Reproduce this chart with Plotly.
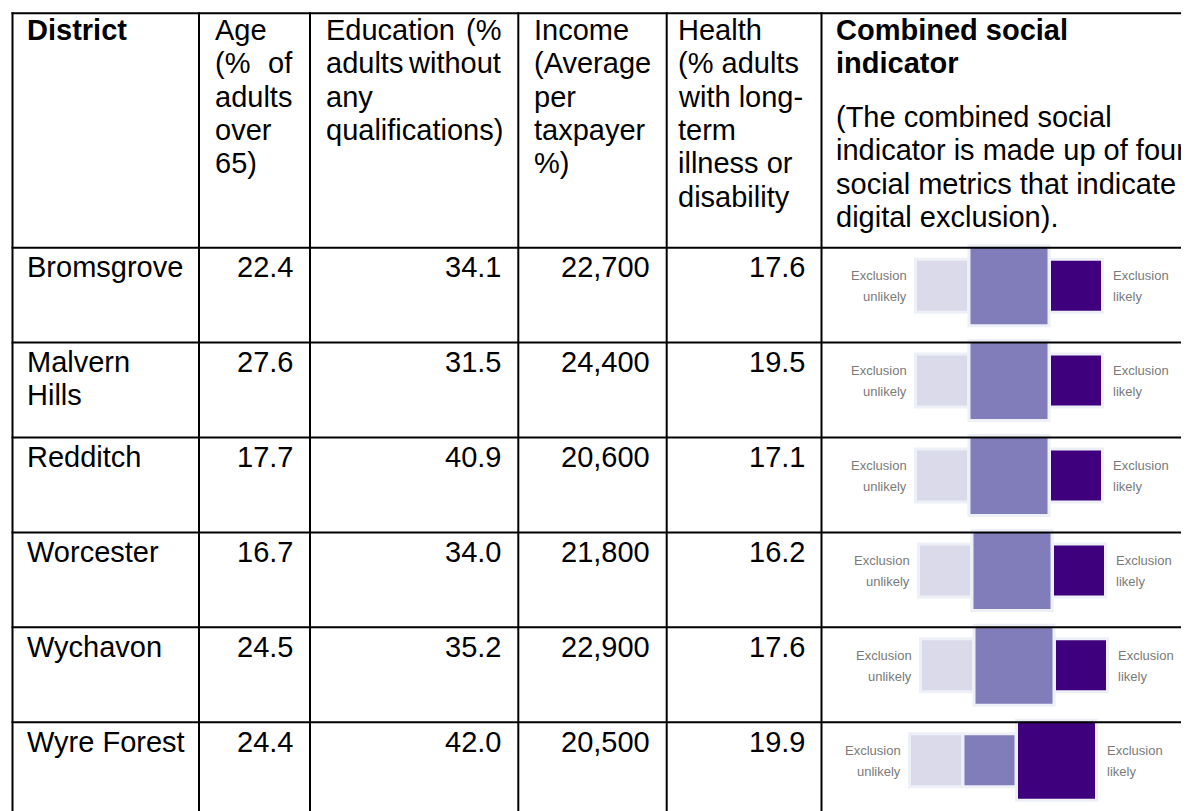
import plotly.graph_objects as go

# ---------------- data ----------------
districts = ["Bromsgrove", "Malvern Hills", "Redditch", "Worcester", "Wychavon", "Wyre Forest"]
age = [22.4, 27.6, 17.7, 16.7, 24.5, 24.4]
education = [34.1, 31.5, 40.9, 34.0, 35.2, 42.0]
income = [22700, 24400, 20600, 21800, 22900, 20500]
health = [17.6, 19.5, 17.1, 16.2, 17.6, 19.9]
# combined social indicator: 0 = exclusion unlikely, 1 = middle, 2 = exclusion likely
indicator_level = [1, 1, 1, 1, 1, 2]
indicator_colors = ["#dadaeb", "#807dba", "#3f007d"]
label_low = ["Exclusion", "unlikely"]
label_high = ["Exclusion", "likely"]

# header text: each line is a list of words; justified lines spread first/last word
header_district = "District"
header_age = [["Age"], ["(%", "of"], ["adults"], ["over"], ["65)"]]
header_age_just = [False, True, False, False, False]
header_edu = [["Education", "(%"], ["adults", "without"], ["any"], ["qualifications)"]]
header_edu_just = [True, True, False, False]
header_inc = [["Income"], ["(Average"], ["per"], ["taxpayer"], ["%)"]]
header_inc_just = [False] * 5
header_hea = [["Health"], ["(%", "adults"], ["with", "long-"], ["term"], ["illness", "or"], ["disability"]]
header_hea_just = [False, False, False, False, False, False]
header_comb_bold = ["Combined social", "indicator"]
header_comb_text = ["(The combined social", "indicator is made up of four",
                    "social metrics that indicate", "digital exclusion)."]

# ---------------- layout constants ----------------
W, H = 1189, 811
PAGE_OFF = 8          # default body margin of the html page
FONT = "Liberation Sans, Arial, sans-serif"
FS = 29
LINE = 33.3
col_x = [12.5, 199, 310, 518.3, 666.7, 821.5]
left_pad = [13.5, 14.5, 14.5, 14.5, 10.5, 13.5]
top_y = 13.3
header_bottom = 247.7
row_h = 94.9
pad_r = 16
row_tops = [header_bottom + i * row_h for i in range(len(districts))]

# approximate Arial advance widths (em) for wrapping
_w = {c: 0.556 for c in "abcdeghnopqu0123456789"}
_w.update({"f": 0.278, "i": 0.222, "j": 0.222, "k": 0.5, "l": 0.222, "m": 0.833, "r": 0.333,
           "s": 0.5, "t": 0.278, "v": 0.5, "w": 0.722, "x": 0.5, "y": 0.5, "z": 0.5, " ": 0.278,
           "B": 0.667, "M": 0.833, "H": 0.722, "R": 0.722, "W": 0.944, "F": 0.611})


def text_width(s, size=FS):
    return sum(_w.get(c, 0.6) for c in s) * size


def wrap(s, width):
    words, lines, cur = s.split(" "), [], ""
    for w in words:
        t = (cur + " " + w).strip()
        if cur and text_width(t) > width:
            lines.append(cur)
            cur = w
        else:
            cur = t
    lines.append(cur)
    return lines


fig = go.Figure()
annotations = []
shapes = []


def add_text(x, baseline, text, anchor="left", size=FS, color="black", bold=False):
    if bold:
        text = "<b>" + text + "</b>"
    annotations.append(dict(
        x=x, y=baseline - 0.345 * size, xref="x", yref="y", text=text, showarrow=False,
        xanchor=anchor, yanchor="middle", borderpad=0,
        font=dict(family=FONT, size=size, color=color)))


def header_block(ci, lines, just, first_baseline=40):
    left = col_x[ci] + left_pad[ci]
    right = col_x[ci + 1] - pad_r
    for k, (words, j) in enumerate(zip(lines, just)):
        b = first_baseline + k * LINE
        if j and len(words) > 1:
            add_text(left, b, words[0], "left")
            add_text(right, b, words[-1], "right")
        else:
            add_text(left, b, " ".join(words), "left")


# header
add_text(col_x[0] + left_pad[0], 40, header_district, bold=True)
header_block(1, header_age, header_age_just)
header_block(2, header_edu, header_edu_just)
header_block(3, header_inc, header_inc_just)
header_block(4, header_hea, header_hea_just)
for k, t in enumerate(header_comb_bold):
    add_text(col_x[5] + left_pad[5], 40 + k * LINE, t, bold=True)
for k, t in enumerate(header_comb_text):
    add_text(col_x[5] + left_pad[5], 127 + k * LINE, t)

# body rows
num_cols = [
    (1, [f"{v:.1f}" for v in age]),
    (2, [f"{v:.1f}" for v in education]),
    (3, [f"{v:,}" for v in income]),
    (4, [f"{v:.1f}" for v in health]),
]
name_width = col_x[1] - col_x[0] - left_pad[0] - 12
for i, name in enumerate(districts):
    rt = row_tops[i]
    base = rt + 29.5
    for k, ln in enumerate(wrap(name, name_width)):
        add_text(col_x[0] + left_pad[0], base + k * LINE, ln)
    for ci, vals in num_cols:
        add_text(col_x[ci + 1] - pad_r, base, vals[i], anchor="right")

# combined indicator graphics
SMALL, BIG, GAP = 50, 77, 3.5
HALO = "#edf0f7"
LABEL_FS = 13
start_x = [917, 917, 917, 920, 922, 911]
for i, lvl in enumerate(indicator_level):
    rt = row_tops[i]
    cy = rt + 38
    x = start_x[i]
    boxes = []
    for k in range(3):
        size = BIG if k == lvl else SMALL
        half = size / 2
        boxes.append((x, x + size, cy - half, cy + half, indicator_colors[k]))
        x += size + GAP
    for (x0, x1, y0, y1, c) in boxes:
        shapes.append(dict(type="rect", xref="x", yref="y", x0=x0 - 3, x1=x1 + 3,
                           y0=y0 - 3, y1=y1 + 3, fillcolor=HALO, line=dict(width=0), layer="below"))
    for (x0, x1, y0, y1, c) in boxes:
        shapes.append(dict(type="rect", xref="x", yref="y", x0=x0, x1=x1, y0=y0, y1=y1,
                           fillcolor=c, line=dict(width=0), layer="below"))
    gl = boxes[0][0] - 8
    gr = boxes[-1][1] + 10
    for k, t in enumerate(label_low):
        annotations.append(dict(x=gl, y=cy - 10 + k * 21, xref="x", yref="y", text=t,
                                showarrow=False, xanchor="right", yanchor="middle",
                                font=dict(family=FONT, size=LABEL_FS, color="#7a7a7a")))
    for k, t in enumerate(label_high):
        annotations.append(dict(x=gr, y=cy - 10 + k * 21, xref="x", yref="y", text=t,
                                showarrow=False, xanchor="left", yanchor="middle",
                                font=dict(family=FONT, size=LABEL_FS, color="#7a7a7a")))

# table grid
LW = 2
for xv in col_x:
    shapes.append(dict(type="line", xref="x", yref="y", x0=xv, x1=xv, y0=top_y - 1, y1=H + 20,
                       line=dict(color="black", width=LW)))
for yv in [top_y, header_bottom] + row_tops[1:]:
    shapes.append(dict(type="line", xref="x", yref="y", x0=col_x[0] - 1, x1=W + 20, y0=yv, y1=yv,
                       line=dict(color="black", width=LW)))

# invisible trace to anchor the axes
fig.add_trace(go.Scatter(x=[PAGE_OFF, W], y=[PAGE_OFF, H], mode="markers", marker=dict(opacity=0),
                         hoverinfo="skip", showlegend=False))

# the figure sits PAGE_OFF px inside the page, so the axes start at PAGE_OFF
fig.update_layout(
    width=W, height=H, margin=dict(l=0, r=0, t=0, b=0),
    paper_bgcolor="white", plot_bgcolor="white",
    xaxis=dict(range=[PAGE_OFF, W + PAGE_OFF], visible=False, fixedrange=True),
    yaxis=dict(range=[H + PAGE_OFF, PAGE_OFF], visible=False, fixedrange=True),
    annotations=annotations, shapes=shapes, showlegend=False,
)

fig.write_html("out.html")
